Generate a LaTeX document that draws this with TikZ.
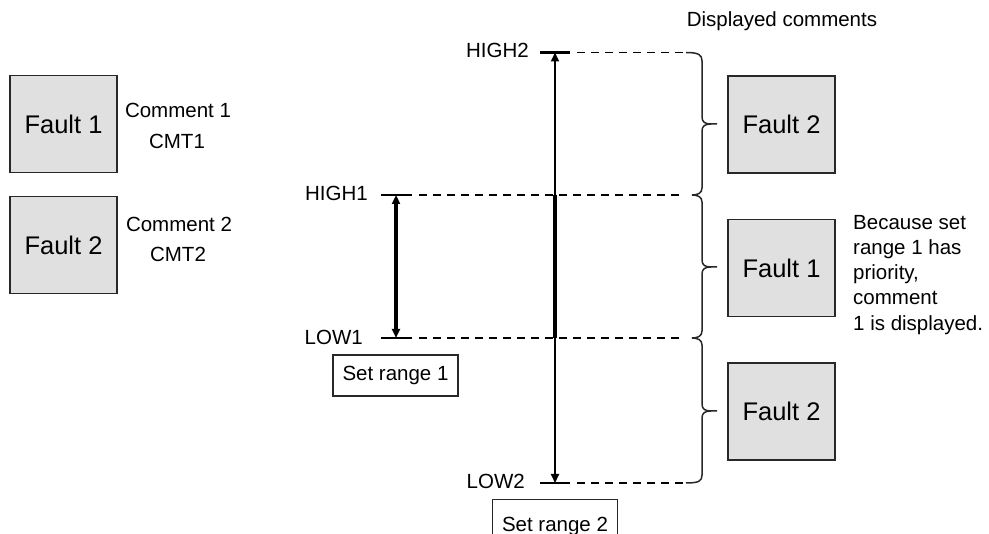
\documentclass[tikz,border=0pt]{standalone}
\usepackage{fontspec}
\setmainfont{Liberation Sans}
\usetikzlibrary{arrows.meta}
\definecolor{faultfill}{RGB}{224,224,224}
\definecolor{edgecol}{RGB}{40,40,40}
\begin{document}
\begin{tikzpicture}[x=1pt,y=-1pt,
  fault/.style={draw=edgecol, line width=1.4pt, fill=faultfill, minimum width=107pt, minimum height=97pt, inner sep=0pt, font=\fontsize{25.5}{30}\selectfont},
  lbl/.style={inner sep=0pt, font=\fontsize{20.5}{25.2}\selectfont},
  rangebox/.style={draw=edgecol, line width=1.2pt, minimum width=125pt, minimum height=41pt, inner sep=0pt, font=\fontsize{20.5}{25.2}\selectfont},
  tickline/.style={line width=2.2pt},
  dashline/.style={line width=1.8pt, dash pattern=on 8pt off 6pt},
  bracepath/.style={line width=1.5pt, draw=edgecol},
  rng/.style={{Triangle[length=9pt,width=8pt]}-{Triangle[length=9pt,width=8pt]}},
]
\useasboundingbox (0,0) rectangle (989,534);
\clip (0,0) rectangle (989,534);

% left legend
\node[fault] (lf1) at (63.5,124) {Fault 1};
\node[fault] (lf2) at (63.5,245) {Fault 2};
\node[lbl, anchor=base] (c1) at (178,118) {Comment 1};
\node[lbl, anchor=base] (m1) at (177,149) {CMT1};
\node[lbl, anchor=base] (c2) at (179,232) {Comment 2};
\node[lbl, anchor=base] (m2) at (178,262) {CMT2};

% level labels
\node[lbl, anchor=base east] (th2) at (529,58) {HIGH2};
\node[lbl, anchor=base east] (th1) at (368,201) {HIGH1};
\node[lbl, anchor=base east] (tl1) at (363,345) {LOW1};
\node[lbl, anchor=base east] (tl2) at (525,489) {LOW2};

% coordinates of ticks
\coordinate (h2a) at (540,52.5); \coordinate (h2b) at (570,52.5); \coordinate (h2m) at (555,52.5);
\coordinate (l2a) at (540,483);  \coordinate (l2b) at (570,483);  \coordinate (l2m) at (555,483);
\coordinate (h1a) at (381,195);  \coordinate (h1b) at (412,195);  \coordinate (h1m) at (396,195);
\coordinate (l1a) at (381,338);  \coordinate (l1b) at (412,338);  \coordinate (l1m) at (396,338);
\coordinate (h1x) at (555,195);  \coordinate (l1x) at (555,338);

\draw[tickline] (h2a) -- (h2b);
\draw[tickline] (l2a) -- (l2b);
\draw[tickline] (h1a) -- (h1b);
\draw[tickline] (l1a) -- (l1b);

% dashed level lines
\coordinate (d2s) at (577,52.5); \coordinate (d2e) at (686,52.5);
\coordinate (d1s) at (419,195);  \coordinate (d1e) at (680,195);
\coordinate (e1s) at (419,338);  \coordinate (e1e) at (680,338);
\coordinate (e2s) at (577,483);  \coordinate (e2e) at (686,483);
\draw[dashline] (d2s) -- (d2e);
\draw[dashline] (d1s) -- (d1e);
\draw[dashline] (e1s) -- (e1e);
\draw[dashline] (e2s) -- (e2e);

% range arrows
\draw[rng, line width=1.8pt] (h2m) -- (l2m);
\draw[line width=3.6pt] (h1x) -- (l1x);
\draw[rng, line width=3.6pt] (h1m) -- (l1m);

% range boxes
\node[rangebox] (sr1) at (395.5,375.5) {Set range 1};
\node[rangebox, minimum height=53pt, anchor=north] (sr2) at (555,499) {Set range 2};

% braces
\draw[bracepath] (686,52.5) .. controls (699,52.5) and (702,55) .. (702,61) -- (702,117)
   .. controls (702,122) and (705,124) .. (711,124) -- (717,124);
\draw[bracepath] (711,124) .. controls (705,124) and (702,126) .. (702,131) -- (702,188)
   .. controls (702,193) and (698,195) .. (692,195);
\draw[bracepath] (692,195) .. controls (698,195) and (702,197) .. (702,202) -- (702,260)
   .. controls (702,265) and (705,267) .. (711,267) -- (717,267);
\draw[bracepath] (711,267) .. controls (705,267) and (702,269) .. (702,274) -- (702,331)
   .. controls (702,336) and (698,338) .. (692,338);
\draw[bracepath] (692,338) .. controls (698,338) and (702,340) .. (702,345) -- (702,404)
   .. controls (702,409) and (705,411) .. (711,411) -- (717,411);
\draw[bracepath] (711,411) .. controls (705,411) and (702,413) .. (702,418) -- (702,475)
   .. controls (702,481) and (699,483) .. (686,483);

% displayed comments
\node[lbl, anchor=base] (dc) at (782,27) {Displayed comments};
\node[fault] (rf1) at (781.5,124.5) {Fault 2};
\node[fault] (rf2) at (781.5,268) {Fault 1};
\node[fault] (rf3) at (781.5,411.5) {Fault 2};
\node[lbl, anchor=north west, align=left] (note) at (853,215) {Because set\\range 1 has\\priority,\\comment\\1 is displayed.};
\end{tikzpicture}
\end{document}
